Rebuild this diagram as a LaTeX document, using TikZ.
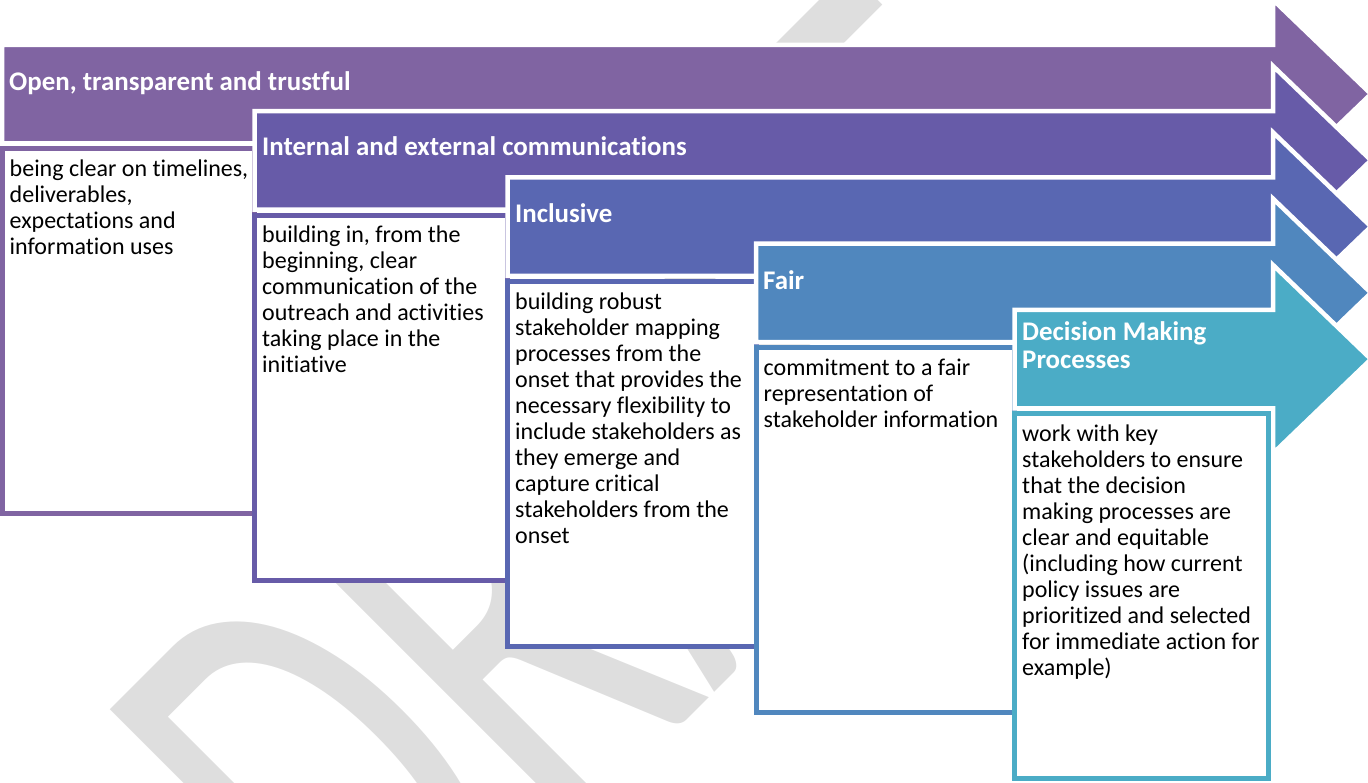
\documentclass[tikz,border=0pt]{standalone}
\usepackage{fontspec}
\setmainfont{Carlito}[Ligatures=NoCommon]
\definecolor{c1}{HTML}{8064A2}
\definecolor{c2}{HTML}{675BA8}
\definecolor{c3}{HTML}{5967B2}
\definecolor{c4}{HTML}{5087BE}
\definecolor{c5}{HTML}{4BACC6}
\definecolor{wm}{HTML}{DEDEDE}
% block arrow: #1 left, #2 top, #3 bottom, #4 colour
\newcommand{\stagearrow}[4]{%
  \pgfmathsetmacro{\atop}{#2-45}%
  \pgfmathsetmacro{\abot}{#3+45}%
  \pgfmathsetmacro{\amid}{(#2+#3)/2}%
  \filldraw[stage, fill=#4] (#1,#2) -- (1273,#2) -- (1273,\atop) -- (1371,\amid)
    -- (1273,\abot) -- (1273,#3) -- (#1,#3) -- cycle;}
\begin{document}
\begin{tikzpicture}[x=1pt,y=-1pt,
  stage/.style={draw=white, line width=4.5pt, line join=miter},
  card/.style={draw=#1, fill=white, line width=5pt, outer sep=0pt, inner sep=0pt,
    anchor=north west, minimum height=365pt},
  heading/.style={anchor=base west, inner sep=0pt, text=white,
    font=\fontsize{26.9}{28}\selectfont\bfseries, align=left},
  body/.style={anchor=north west, inner sep=0pt, align=left,
    font=\fontsize{24}{26}\selectfont},
]
\useasboundingbox (0,0) rectangle (1368,782);

% watermark behind the diagram
\node[rotate=45, anchor=base west, inner sep=0pt, text=wm] (mark) at (384.5,1022.5)
  {\scalebox{0.62}[1]{\fontsize{647}{647}\selectfont DRAFT}};

% stage 1
\stagearrow{2}{44.75}{143.25}{c1}
\node[heading] (h1) at (9,90) {Open, transparent and trustful};
\node[card=c1, minimum width=252.5pt] (box1) at (2,148.75) {};
\node[body] (t1) at ([shift={(7.5,7.5)}]box1.north west)
  {\rule{0pt}{20pt}being clear on timelines,\\deliverables,\\expectations and\\information uses};

% stage 2
\stagearrow{254.5}{111.05}{209.55}{c2}
\node[heading] (h2) at (262,155.5) {Internal and external communications};
\node[card=c2, minimum width=253pt] (box2) at (254.5,215.05) {};
\node[body] (t2) at ([shift={(7.5,7.5)}]box2.north west)
  {\rule{0pt}{20pt}building in, from the\\beginning, clear\\communication of the\\outreach and activities\\taking place in the\\initiative};

% stage 3
\stagearrow{507.5}{177.35}{275.85}{c3}
\node[heading] (h3) at (515,222) {Inclusive};
\node[card=c3, minimum width=248.5pt] (box3) at (507.5,281.35) {};
\node[body] (t3) at ([shift={(7.5,7.5)}]box3.north west)
  {\rule{0pt}{20pt}building robust\\stakeholder mapping\\processes from the\\onset that provides the\\necessary flexibility to\\include stakeholders as\\they emerge and\\capture critical\\stakeholders from the\\onset};

% stage 4
\stagearrow{756}{243.65}{342.15}{c4}
\node[heading] (h4) at (763,289.5) {Fair};
\node[card=c4, minimum width=258.5pt] (box4) at (756,347.65) {};
\node[body] (t4) at ([shift={(7.5,7.5)}]box4.north west)
  {\rule{0pt}{20pt}commitment to a fair\\representation of\\stakeholder information};

% stage 5 (two-line heading: base anchor sits on the last line)
\stagearrow{1014.5}{309.95}{408.45}{c5}
\node[heading] (h5) at (1022,368) {Decision Making\\Processes};
\node[card=c5, minimum width=254pt] (box5) at (1014.5,413.95) {};
\node[body] (t5) at ([shift={(7.5,7.5)}]box5.north west)
  {\rule{0pt}{20pt}work with key\\stakeholders to ensure\\that the decision\\making processes are\\clear and equitable\\(including how current\\policy issues are\\prioritized and selected\\for immediate action for\\example)};
\end{tikzpicture}
\end{document}
